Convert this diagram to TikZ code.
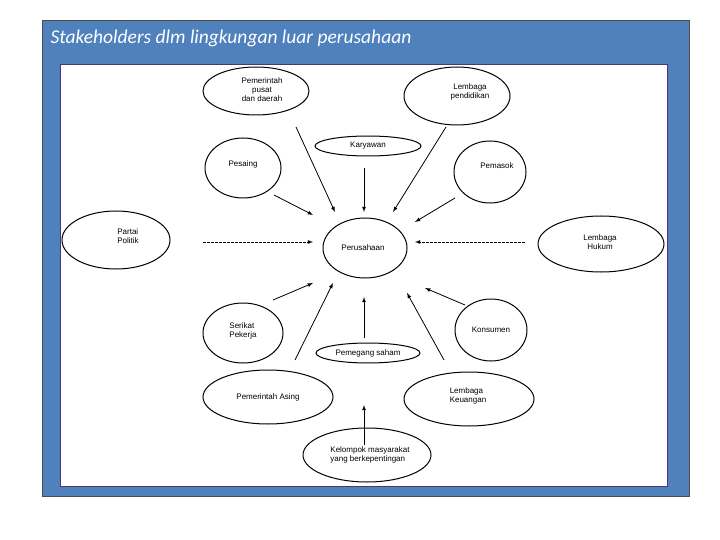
\documentclass[tikz,border=0pt]{standalone}
\usepackage{fontspec}
\setmainfont{Liberation Sans}
\newfontfamily\titlefont{Carlito}
\definecolor{bgblue}{RGB}{79,129,189}
\definecolor{framepur}{RGB}{80,50,120}
\begin{document}
\begin{tikzpicture}[x=1pt,y=-1pt,
  tx/.style={font=\fontsize{8}{9}\selectfont,align=center},
  arr/.style={-latex,line width=0.8pt},
  darr/.style={-latex,line width=0.8pt,dash pattern=on 3pt off 1pt}]
\useasboundingbox (0,0) rectangle (720,540);
\fill[white] (0,0) rectangle (720,540);
\fill[bgblue] (42,20) rectangle (689,496);
\draw[black!70] (42,20) rectangle (689,496);
\fill[white] (60,65) rectangle (667,486);
\draw[framepur,line width=1pt] (60,65) rectangle (667,486);
\node[anchor=west,text=white,font=\titlefont\itshape\fontsize{19.5}{21}\selectfont] (title) at (47,38) {Stakeholders dlm lingkungan luar perusahaan};
\draw[line width=1pt] (256,91) ellipse [x radius=53,y radius=24];
\node[tx] (pp) at (262,90) {Pemerintah\\pusat\\dan daerah};
\draw[line width=1pt] (457,96) ellipse [x radius=53,y radius=29];
\node[tx] (lp) at (470,92) {Lembaga\\pendidikan};
\draw[line width=1pt] (368,146) ellipse [x radius=53,y radius=10];
\node[tx] (ky) at (368,146) {Karyawan};
\draw[line width=1pt] (243,168) ellipse [x radius=38,y radius=30];
\node[tx] (ps) at (243,164) {Pesaing};
\draw[line width=1pt] (490,172) ellipse [x radius=36,y radius=31];
\node[tx] (pm) at (497,166) {Pemasok};
\draw[line width=1pt] (116,240) ellipse [x radius=54,y radius=29];
\node[tx,align=left] (pt) at (128,236) {Partai\\Politik};
\draw[line width=1pt] (365,248) ellipse [x radius=42,y radius=30];
\node[tx] (pr) at (363,248) {Perusahaan};
\draw[line width=1pt] (601,244) ellipse [x radius=63,y radius=28];
\node[tx] (lh) at (600,242) {Lembaga\\Hukum};
\draw[line width=1pt] (243,333) ellipse [x radius=40,y radius=30];
\node[tx,align=left] (sp) at (243,331) {Serikat\\Pekerja};
\draw[line width=1pt] (491,330) ellipse [x radius=36,y radius=31];
\node[tx] (ks) at (491,330) {Konsumen};
\draw[line width=1pt] (368,353) ellipse [x radius=52,y radius=10];
\node[tx] (sh) at (368,353) {Pemegang saham};
\draw[line width=1pt] (268,397) ellipse [x radius=65,y radius=27];
\node[tx] (pa) at (268,397) {Pemerintah Asing};
\draw[line width=1pt] (469,399) ellipse [x radius=65,y radius=27];
\node[tx,align=left] (lk) at (468,396) {Lembaga\\Keuangan};
\draw[line width=1pt] (367,455) ellipse [x radius=64,y radius=27];
\node[tx,align=left] (kl) at (370,455) {Kelompok masyarakat\\yang berkepentingan};
\coordinate (a1) at (296,127); \coordinate (b1) at (335,212);
\coordinate (a2) at (446,127); \coordinate (b2) at (393,212);
\coordinate (a3) at (364,168); \coordinate (b3) at (364,212);
\coordinate (a4) at (274,195); \coordinate (b4) at (313,215);
\coordinate (a5) at (455,198); \coordinate (b5) at (415,222);
\coordinate (a6) at (203,242); \coordinate (b6) at (313,242);
\coordinate (a7) at (525,242); \coordinate (b7) at (415,242);
\coordinate (a8) at (273,300); \coordinate (b8) at (313,283);
\coordinate (a9) at (295,360); \coordinate (b9) at (333,283);
\coordinate (a10) at (364,338); \coordinate (b10) at (364,297);
\coordinate (a11) at (444,360); \coordinate (b11) at (407,293);
\coordinate (a12) at (465,305); \coordinate (b12) at (425,288);
\coordinate (a13) at (364,445); \coordinate (b13) at (364,405);
\foreach \i in {1,2,3,4,5,8,9,10,11,12,13} \draw[arr] (a\i) -- (b\i);
\draw[darr] (a6) -- (b6);
\draw[darr] (a7) -- (b7);
\end{tikzpicture}
\end{document}
